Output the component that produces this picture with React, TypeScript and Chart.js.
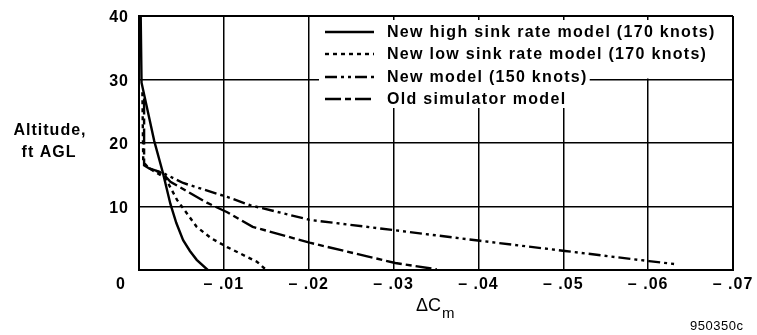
import React, { useEffect, useRef } from 'react';
import { Chart, registerables } from 'chart.js';

Chart.register(...registerables);

// ---- Data (ΔCm as negative values, altitude in ft AGL) ----
const xTickValues = [0, -0.01, -0.02, -0.03, -0.04, -0.05, -0.06, -0.07];
const xTickLabels = ['0', '\u2013 .01', '\u2013 .02', '\u2013 .03', '\u2013 .04', '\u2013 .05', '\u2013 .06', '\u2013 .07'];
const yTickValues = [10, 20, 30, 40];
const yTickLabels = ['10', '20', '30', '40'];

const highSinkX = [-0.0002, -0.0003, -0.0018, -0.0028, -0.0037, -0.0044, -0.0052, -0.006, -0.0068, -0.0081];
const highSinkY = [40, 29.5, 20.3, 15.4, 10.4, 7.4, 4.7, 3.0, 1.6, 0];

const lowSinkX = [-0.0004, -0.0005, -0.0011, -0.0031, -0.0045, -0.0068, -0.0085, -0.0104, -0.0139, -0.015];
const lowSinkY = [28, 17, 16.1, 14.5, 11.0, 6.8, 5.0, 3.6, 1.3, 0];

const newModelX = [-0.0012, -0.0028, -0.0052, -0.0104, -0.0131, -0.0201, -0.0299, -0.0402, -0.0502, -0.0601, -0.0634];
const newModelY = [16, 15.3, 13.7, 11.5, 10.2, 7.9, 6.3, 4.6, 3.0, 1.4, 0.9];

const oldSimX = [-0.0006, -0.0006, -0.0012, -0.0028, -0.0037, -0.008, -0.0104, -0.0134, -0.0201, -0.0302, -0.0351];
const oldSimY = [27, 16.5, 16, 15.2, 13.9, 10.6, 9.1, 6.8, 4.3, 1.1, 0.1];

const seriesLabels = [
  'New high sink rate model (170 knots)',
  'New low sink rate model (170 knots)',
  'New model (150 knots)',
  'Old simulator model',
];
const seriesDashes: number[][] = [[], [4, 4], [12, 4, 3, 4, 3, 4], [16, 4, 6, 4]];

const toPoints = (xs: number[], ys: number[]) => xs.map((x, i) => ({ x, y: ys[i] }));

const FONT = '"Liberation Sans", Arial, Helvetica, sans-serif';

const textPlugin = {
  id: 'textPlugin',
  afterDraw(chart: any) {
    const ctx = chart.ctx as CanvasRenderingContext2D;
    const xs = chart.scales.x;
    const ys = chart.scales.y;
    const area = chart.chartArea;
    ctx.save();
    ctx.fillStyle = '#000';
    ctx.textBaseline = 'middle';

    // x tick labels
    ctx.font = `bold 16px ${FONT}`;
    (ctx as any).letterSpacing = '1px';
    ctx.textAlign = 'center';
    xTickValues.forEach((v, i) => {
      let px = xs.getPixelForValue(v);
      if (v === 0) px -= 18;
      ctx.fillText(xTickLabels[i], px, area.bottom + 15);
    });

    // y tick labels
    ctx.textAlign = 'right';
    yTickValues.forEach((v, i) => {
      ctx.fillText(yTickLabels[i], area.left - 10, ys.getPixelForValue(v) + 2);
    });

    // y axis title
    ctx.textAlign = 'center';
    ctx.fillText('Altitude,', 50, 131);
    ctx.fillText('ft AGL', 49, 153);

    // x axis title ΔCm
    (ctx as any).letterSpacing = '0px';
    ctx.font = `18px ${FONT}`;
    ctx.textAlign = 'left';
    ctx.fillText('\u0394C', 416, 306);
    const w = ctx.measureText('\u0394C').width;
    ctx.font = `15px ${FONT}`;
    ctx.fillText('m', 416 + w + 1, 314);

    // figure id
    ctx.font = `13px ${FONT}`;
    (ctx as any).letterSpacing = '0.5px';
    ctx.fillText('950350c', 690, 326);

    // legend
    const rowsY = [32, 54, 77, 99];
    const lx0 = 319;
    ctx.font = `bold 16px ${FONT}`;
    (ctx as any).letterSpacing = '1.3px';
    const w3 = ctx.measureText(seriesLabels[2]).width;
    const w4 = ctx.measureText(seriesLabels[3]).width;
    ctx.fillStyle = '#fff';
    const y30 = ys.getPixelForValue(30);
    ctx.fillRect(lx0, area.top + 4, area.right - lx0 - 1, y30 - area.top - 5);
    ctx.fillRect(lx0, rowsY[2] - 9, 387 + w3 + 2 - lx0, 10);
    ctx.fillRect(lx0, rowsY[2], 387 + Math.max(w3, w4) + 2 - lx0, rowsY[3] - rowsY[2] + 9);
    ctx.fillStyle = '#000';
    ctx.strokeStyle = '#000';
    ctx.lineWidth = 2.4;
    seriesLabels.forEach((lab, i) => {
      const y = rowsY[i];
      ctx.setLineDash(seriesDashes[i]);
      ctx.beginPath();
      ctx.moveTo(325, y);
      ctx.lineTo(374, y);
      ctx.stroke();
      ctx.setLineDash([]);
      ctx.fillText(lab, 387, y + 1);
    });
    ctx.restore();
  },
};

export default function App() {
  const canvasRef = useRef<HTMLCanvasElement | null>(null);

  useEffect(() => {
    if (!canvasRef.current) return;
    const mk = (xs: number[], ys: number[], i: number) => ({
      label: seriesLabels[i],
      data: toPoints(xs, ys),
      borderColor: '#000',
      backgroundColor: '#000',
      borderWidth: 2.4,
      borderDash: seriesDashes[i],
      pointRadius: 0,
      fill: false,
      tension: 0,
    });
    const chart = new Chart(canvasRef.current, {
      type: 'line',
      data: {
        datasets: [
          mk(highSinkX, highSinkY, 0),
          mk(lowSinkX, lowSinkY, 1),
          mk(newModelX, newModelY, 2),
          mk(oldSimX, oldSimY, 3),
        ],
      },
      options: {
        responsive: false,
        animation: false,
        devicePixelRatio: 1,
        layout: { padding: { left: 0, right: 24, top: 16, bottom: 0 } },
        plugins: { legend: { display: false }, tooltip: { enabled: false } },
        scales: {
          x: {
            type: 'linear',
            min: -0.07,
            max: 0,
            reverse: true,
            ticks: { display: false, stepSize: 0.01 },
            grid: {
              color: '#000',
              lineWidth: (c: any) => (c.index === 0 || c.index === 7 ? 2 : 1.5),
              drawTicks: false,
            },
            border: { display: true, color: '#000', width: 2 },
            afterFit: (s: any) => { s.height = 65; },
          },
          y: {
            type: 'linear',
            min: 0,
            max: 40,
            ticks: { display: false, stepSize: 10 },
            grid: {
              color: '#000',
              lineWidth: (c: any) => (c.index === 0 || c.index === 4 ? 2 : 1.5),
              drawTicks: false,
            },
            border: { display: true, color: '#000', width: 2 },
            afterFit: (s: any) => { s.width = 139; },
          },
        },
      },
      plugins: [textPlugin],
    });
    return () => chart.destroy();
  }, []);

  return (
    <div style={{ position: 'fixed', left: 0, top: 0, width: 757, height: 335, background: '#fff' }}>
      <canvas ref={canvasRef} width={757} height={335} style={{ width: 757, height: 335, display: 'block' }} />
    </div>
  );
}
